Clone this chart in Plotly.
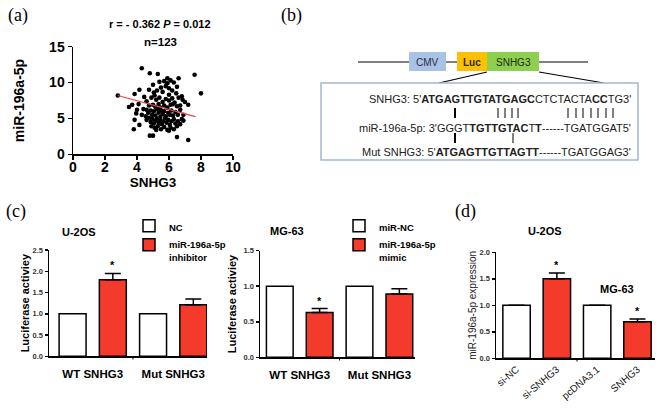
import plotly.graph_objects as go

W, H = 661, 409
def fx(p): return p / W
def fy(p): return 1 - p / H

FONT = "Liberation Sans"
SERIF = "Liberation Serif"
RED = "#F33A2B"

# ---------------- data ----------------
# (a) scatter: SNHG3 vs miR-196a-5p (n=123)
snhg3_x = [2.8, 3.5, 3.7, 3.85, 3.8, 3.85, 3.95, 4.0, 4.1, 4.15, 4.15, 4.3, 4.3, 4.4, 4.45,
           4.8, 5.3, 5.9, 6.6, 7.6, 8.0, 5.0, 5.4, 5.7, 5.9, 6.1, 6.3, 5.5, 5.8, 6.0, 5.25, 5.6, 6.2, 6.5, 4.75, 5.05,
           4.6, 4.9, 5.2, 5.4, 5.6, 5.8, 6.0, 6.2, 6.35, 6.6, 6.8, 6.85, 6.7, 7.2, 6.5, 4.75, 5.0, 5.15, 5.35, 5.7, 5.9, 6.1, 7.0,
           4.6, 4.7, 4.85, 4.95, 5.05, 5.15, 5.25, 5.35, 5.45, 5.5, 5.6, 5.7, 5.8, 5.95, 6.05, 6.15, 6.25, 6.4, 6.55, 6.7, 6.9, 6.9,
           4.6, 4.75, 4.85, 4.95, 5.05, 5.15, 5.25, 5.35, 5.45, 5.55, 5.65, 5.75, 5.85, 5.95, 6.05, 6.15, 6.3, 6.4, 6.55, 6.7, 6.8,
           4.9, 5.1, 5.3, 5.5, 5.7, 5.9, 6.1, 6.3, 6.5, 5.2, 6.0,
           4.8, 5.0, 6.5, 7.2,
           5.45, 6.0, 5.1, 6.45, 4.55, 6.25]
mir_y = [8.2, 6.6, 6.9, 8.4, 3.5, 4.8, 5.7, 6.2, 7.0, 9.0, 4.1, 12.0, 5.5, 6.3, 8.0,
         11.3, 11.2, 10.6, 10.6, 11.1, 8.5, 9.7, 10.1, 10.2, 9.9, 10.3, 10.0, 9.3, 9.5, 9.2, 8.9, 8.7, 8.9, 9.4, 9.0, 8.6,
         7.4, 7.9, 7.6, 7.9, 7.3, 7.7, 7.5, 7.8, 7.2, 7.9, 8.1, 7.6, 6.8, 6.9, 6.7, 6.8, 6.9, 6.6, 7.0, 6.8, 6.5, 6.9, 7.3,
         6.2, 5.8, 6.1, 5.5, 6.0, 5.4, 6.3, 5.8, 5.2, 6.1, 5.6, 6.0, 5.3, 5.8, 5.5, 6.1, 5.4, 5.9, 5.5, 6.2, 5.5, 4.7,
         4.8, 5.1, 4.5, 4.9, 4.3, 4.7, 5.0, 4.4, 4.8, 4.2, 4.6, 5.0, 4.4, 4.8, 4.1, 4.6, 4.9, 4.3, 4.6, 4.2, 4.9,
         3.9, 3.7, 3.9, 3.5, 3.8, 3.4, 3.7, 3.5, 3.9, 3.4, 3.3,
         2.6, 2.6, 2.4, 2.0,
         6.5, 8.3, 8.2, 8.5, 5.3, 7.0]
fit_x = [2.8, 7.65]
fit_y = [8.2, 5.25]

# (c) luciferase assays
c_groups = ["WT SNHG3", "Mut SNHG3"]
u2os_nc = [1.0, 1.0]
u2os_inh = [1.8, 1.21]
u2os_inh_err = [0.15, 0.14]
mg63_nc = [1.0, 1.0]
mg63_mimic = [0.63, 0.89]
mg63_mimic_err = [0.055, 0.075]

# (d) miR-196a-5p expression
d_cats = ["si-NC", "si-SNHG3", "pcDNA3.1", "SNHG3"]
d_vals = [1.0, 1.5, 1.0, 0.69]
d_err = [0, 0.11, 0, 0.05]
d_colors = ["white", RED, "white", RED]

# sequences (b)
seq_lines = ["SNHG3: 5'<b>ATGAGTTGTATGAGC</b>CTCTACTA<b>CC</b>TG3'",
             "miR-196a-5p: 3'GGGT<b>TGTTGTAC</b>T<b>T</b>------TGATGGAT5'",
             "Mut SNHG3: 5'<b>ATGAGTTGTTAGTT</b>------TGATGGAG3'"]

fig = go.Figure()

# ---- (a) ----
fig.add_trace(go.Scatter(x=snhg3_x, y=mir_y, mode="markers", xaxis="x", yaxis="y",
                         marker=dict(color="black", size=4.6), showlegend=False))
fig.add_trace(go.Scatter(x=fit_x, y=fit_y, mode="lines", xaxis="x", yaxis="y",
                         line=dict(color="#E5484D", width=1.2), showlegend=False))

# ---- (c) left ----
bw = 0.335
fig.add_trace(go.Bar(x=c_groups, y=u2os_nc, name="NC", xaxis="x2", yaxis="y2",
                     width=bw, offset=-0.25 - bw / 2,
                     marker=dict(color="white", line=dict(color="black", width=1.5)),
                     legend="legend"))
fig.add_trace(go.Bar(x=c_groups, y=u2os_inh, name="miR-196a-5p<br>inhibitor", xaxis="x2", yaxis="y2",
                     width=bw, offset=0.25 - bw / 2,
                     marker=dict(color=RED, line=dict(color="black", width=1.5)),
                     error_y=dict(type="data", symmetric=False, array=u2os_inh_err, arrayminus=[0, 0],
                                  color="black", thickness=1.5, width=8),
                     legend="legend"))
# ---- (c) right ----
fig.add_trace(go.Bar(x=c_groups, y=mg63_nc, name="miR-NC", xaxis="x3", yaxis="y3",
                     width=bw, offset=-0.25 - bw / 2,
                     marker=dict(color="white", line=dict(color="black", width=1.5)),
                     legend="legend2"))
fig.add_trace(go.Bar(x=c_groups, y=mg63_mimic, name="miR-196a-5p<br>mimic", xaxis="x3", yaxis="y3",
                     width=bw, offset=0.25 - bw / 2,
                     marker=dict(color=RED, line=dict(color="black", width=1.5)),
                     error_y=dict(type="data", symmetric=False, array=mg63_mimic_err, arrayminus=[0, 0],
                                  color="black", thickness=1.5, width=8),
                     legend="legend2"))
# ---- (d) ----
fig.add_trace(go.Bar(x=d_cats, y=d_vals, xaxis="x4", yaxis="y4", width=0.68,
                     marker=dict(color=d_colors, line=dict(color="black", width=1.5)),
                     error_y=dict(type="data", symmetric=False, array=d_err, arrayminus=[0, 0, 0, 0],
                                  color="black", thickness=1.5, width=8),
                     showlegend=False))

axis_common = dict(showline=True, linecolor="black", linewidth=1.5, showgrid=False, zeroline=False,
                   ticks="outside", tickcolor="black", tickwidth=1.5, automargin=False)
small_tick = dict(family=FONT, size=7.5, color="#333", weight="bold")

layout = dict(
    width=W, height=H, margin=dict(l=0, r=0, t=0, b=0),
    paper_bgcolor="white", plot_bgcolor="white", barmode="overlay",
    font=dict(family=FONT, color="black"),
    xaxis=dict(axis_common, domain=[fx(73), fx(233)], range=[0, 10], anchor="y",
               tickvals=[0, 2, 4, 6, 8, 10], ticklen=4, ticklabelstandoff=-5,
               tickfont=dict(family=FONT, size=14, weight="bold"),
               title=dict(text="SNHG3", font=dict(family=FONT, size=13.5, weight="bold"), standoff=4)),
    yaxis=dict(axis_common, domain=[fy(154.3), fy(46.7)], range=[0, 15], anchor="x",
               tickvals=[0, 5, 10, 15], ticklen=4,
               tickfont=dict(family=FONT, size=14, weight="bold"),
               title=dict(text="miR-196a-5p", font=dict(family=FONT, size=14, weight="bold"), standoff=21)),
    xaxis2=dict(axis_common, domain=[fx(49), fx(207)], type="category", range=[-0.543, 1.42], anchor="y2",
                ticks="", ticklabelstandoff=6,
                tickfont=dict(family=FONT, size=11.5, weight="bold")),
    yaxis2=dict(axis_common, domain=[fy(356.3), fy(250)], range=[0, 2.5], anchor="x2",
                tickvals=[0, 0.5, 1, 1.5, 2, 2.5], tickformat=".1f", ticklen=3, tickfont=small_tick,
                title=dict(text="Luciferase activiey", font=dict(family=FONT, size=11, weight="bold"), standoff=0)),
    xaxis3=dict(axis_common, domain=[fx(260), fx(415)], type="category", range=[-0.498, 1.446], anchor="y3",
                ticks="", ticklabelstandoff=6,
                tickfont=dict(family=FONT, size=11.5, weight="bold")),
    yaxis3=dict(axis_common, domain=[fy(357.3), fy(250.7)], range=[0, 1.5], anchor="x3",
                tickvals=[0, 0.5, 1, 1.5], tickformat=".1f", ticklen=3, tickfont=small_tick,
                title=dict(text="Luciferase activiey", font=dict(family=FONT, size=11, weight="bold"), standoff=4)),
    xaxis4=dict(axis_common, domain=[fx(496), fx(655)], type="category", range=[-0.51, 3.435], anchor="y4",
                ticks="", tickangle=-40, ticklabelstandoff=0,
                tickfont=dict(family=FONT, size=10, color="#111")),
    yaxis4=dict(axis_common, domain=[fy(358.3), fy(252.3)], range=[0, 2], anchor="x4",
                tickvals=[0, 0.5, 1, 1.5, 2], tickformat=".1f", ticklen=3, tickfont=small_tick,
                title=dict(text="miR-196a-5p expression", font=dict(family=FONT, size=10, color="#222"), standoff=1)),
    legend=dict(x=fx(129), y=fy(213), xanchor="left", yanchor="top", bgcolor="rgba(0,0,0,0)",
                font=dict(family=FONT, size=9.5, weight="bold"), valign="top", tracegroupgap=0,
                itemclick=False, itemdoubleclick=False),
    legend2=dict(x=fx(339), y=fy(213), xanchor="left", yanchor="top", bgcolor="rgba(0,0,0,0)",
                 font=dict(family=FONT, size=9.5, weight="bold"), valign="top", tracegroupgap=0,
                 itemclick=False, itemdoubleclick=False),
)
fig.update_layout(**layout)

ann = []
def A(text, x, y, size=11, bold=False, family=FONT, xanchor="center", color="black", **kw):
    ann.append(dict(text=text, x=fx(x), y=fy(y), xref="paper", yref="paper", showarrow=False,
                    xanchor=xanchor, yanchor="middle",
                    font=dict(family=family, size=size, color=color, weight="bold" if bold else "normal"), **kw))

# panel letters
A("(a)", 18, 16, size=18, family=SERIF)
A("(b)", 291, 16, size=18, family=SERIF)
A("(c)", 16, 211, size=18, family=SERIF)
A("(d)", 465, 211, size=18, family=SERIF)
# (a) stats
A("r = - 0.362 <i>P</i> = 0.012", 160, 24, size=11, bold=True)
A("n=123", 160, 42, size=11.5, bold=True)
# (c)/(d) titles
A("U-2OS", 79, 232, size=11, bold=True)
A("MG-63", 287, 231, size=11, bold=True)
A("U-2OS", 545, 231, size=11, bold=True)
A("MG-63", 617, 289, size=11, bold=True)
# (b) construct labels
A("CMV", 427.5, 62, size=10, color="#2b2b3a")
A("Luc", 472, 62, size=10, bold=True, color="#2b2b2b")
A("SNHG3", 513, 62, size=10, color="#1e2a10")
for t, yy in zip(seq_lines, [99, 128, 152]):
    A(t, 633, yy, size=11, xanchor="right", color="#222")

# stars
def star(xref, yref, xpos, ytop):
    ann.append(dict(text="*", x=xpos, y=ytop, xref=xref, yref=yref, showarrow=False,
                    yanchor="bottom", font=dict(family=FONT, size=11, weight="bold")))
star("x2", "y2", 0.25, u2os_inh[0] + u2os_inh_err[0])
star("x3", "y3", 0.25, mg63_mimic[0] + mg63_mimic_err[0])
star("x4", "y4", 1, d_vals[1] + d_err[1])
star("x4", "y4", 3, d_vals[3] + d_err[3])
fig.update_layout(annotations=ann)

shapes = []
def L(x0, y0, x1, y1, w=1, color="black"):
    shapes.append(dict(type="line", xref="paper", yref="paper", x0=fx(x0), y0=fy(y0), x1=fx(x1), y1=fy(y1),
                       line=dict(color=color, width=w), layer="above"))
def R(x0, y0, x1, y1, fill, line="rgba(0,0,0,0)", w=0):
    shapes.append(dict(type="rect", xref="paper", yref="paper", x0=fx(x0), y0=fy(y0), x1=fx(x1), y1=fy(y1),
                       fillcolor=fill, line=dict(color=line, width=w), layer="above"))

# construct
L(358, 62, 588, 62, 1.2)
R(409, 52, 446, 71, "#A9C3E6")
R(457, 52, 487, 71, "#FFC000")
R(487, 52, 539, 71, "#8DCF4E")
L(487, 72, 439, 83, 1.2)
L(539, 72, 604, 83, 1.2)
R(321, 83, 638, 160, "white", line="#A3B6D0", w=1.5)
# pairing bars
L(455, 108, 455, 118, 2)
for xb in [498, 505, 512, 518]:
    L(xb, 108, xb, 118, 1)
for xb in [568, 576, 583, 591, 598, 606, 613]:
    L(xb, 108, xb, 118, 1)
L(455, 133, 455, 143, 2)
L(513, 133, 513, 143, 1)

# group-boundary ticks on bar x axes
for xr, yr, xv in [("x2", "y2 domain", 0.5), ("x3", "y3 domain", 0.5), ("x4", "y4 domain", 1.5)]:
    shapes.append(dict(type="line", xref=xr, yref=yr, x0=xv, x1=xv, y0=0, y1=-0.03,
                       line=dict(color="black", width=1)))
fig.update_layout(shapes=shapes)

fig.write_html("out.html", config={"displayModeBar": False, "staticPlot": True},
               post_script="document.body.style.margin='0';")
